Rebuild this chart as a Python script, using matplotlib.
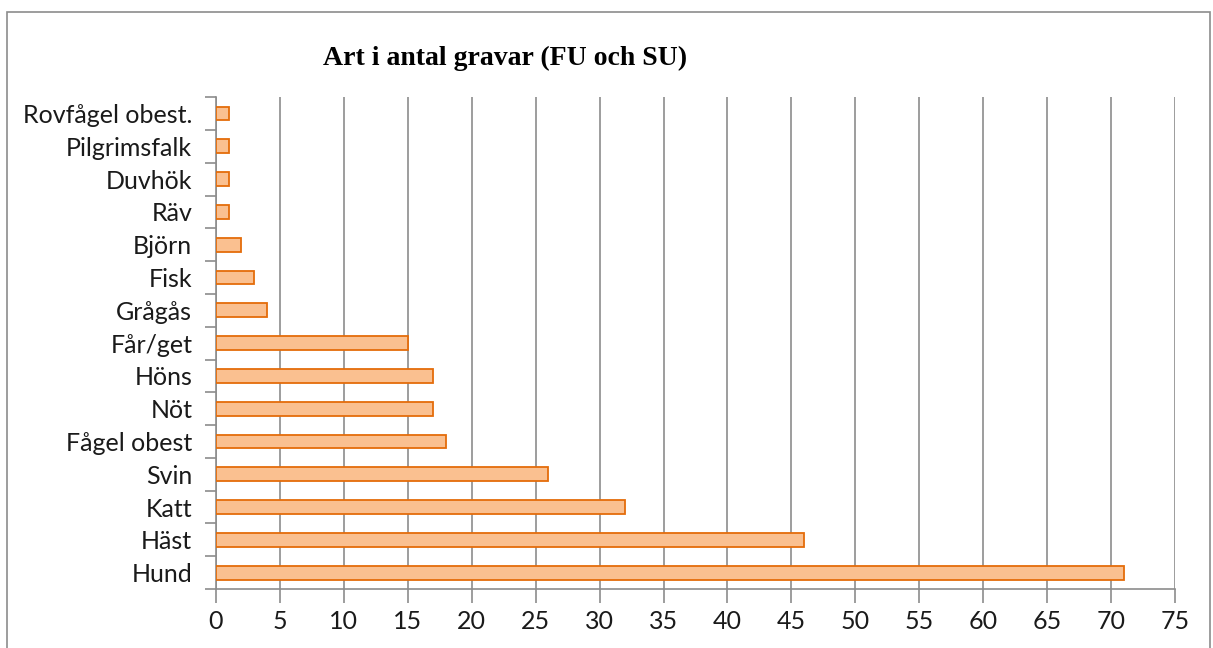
import numpy as np
import matplotlib.pyplot as plt
from matplotlib.patches import Rectangle
from matplotlib.ticker import MultipleLocator

categories = ["Hund", "Häst", "Katt", "Svin", "Fågel obest", "Nöt", "Höns", "Får/get",
              "Grågås", "Fisk", "Björn", "Räv", "Duvhök", "Pilgrimsfalk", "Rovfågel obest."]
values = [71, 46, 32, 26, 18, 17, 17, 15, 4, 3, 2, 1, 1, 1, 1]

plt.rcParams['font.family'] = ['Lato', 'DejaVu Sans']

fig = plt.figure(figsize=(12.13, 6.48), dpi=100)
ax = fig.add_axes([0.178, 0.091, 0.7907, 0.759])

# outer chart border like Excel
fig.patches.append(Rectangle((7 / 1213, -0.05), 1203 / 1213, 1.05 - 12 / 648,
                             transform=fig.transFigure, fill=False,
                             edgecolor='#8c8c8c', lw=1.2))

y = np.arange(len(categories))
ax.barh(y, values, height=0.42, color='#FAC090', edgecolor='#E46C0A', lw=1.3, zorder=3)

ax.set_xlim(0, 75)
ax.set_ylim(-0.5, len(categories) - 0.5)
ax.xaxis.set_major_locator(MultipleLocator(5))
ax.set_yticks(y)
ax.set_yticklabels(categories)
ax.set_yticks(np.arange(-0.5, len(categories)), minor=True)

ax.grid(axis='x', color='#8c8c8c', lw=1.2, zorder=0)
ax.set_axisbelow(True)
for s in ['top', 'right']:
    ax.spines[s].set_visible(False)
for s in ['left', 'bottom']:
    ax.spines[s].set_color('#8c8c8c')
    ax.spines[s].set_linewidth(1.2)

ax.tick_params(axis='x', length=10, width=1.2, color='#8c8c8c', labelsize=18,
               labelcolor='#1a1a1a', pad=5)
ax.tick_params(axis='y', which='major', length=0, labelsize=18, labelcolor='#1a1a1a', pad=17)
ax.tick_params(axis='y', which='minor', length=8, width=1.2, color='#8c8c8c')

fig.text(505 / 1213, 1 - 58 / 648, "Art i antal gravar (FU och SU)", ha='center', va='center',
         fontsize=20, fontweight='bold', family='Liberation Serif')

fig.savefig('out.png', dpi=100)
